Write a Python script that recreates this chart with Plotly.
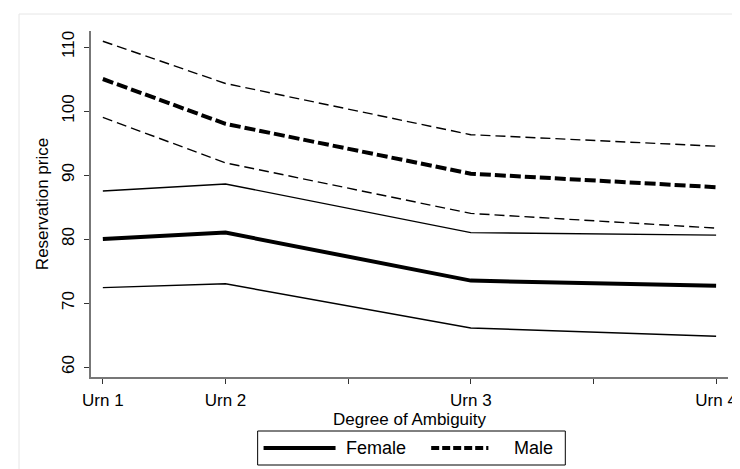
import plotly.graph_objects as go

# ---- data ----
urn_labels = ["Urn 1", "Urn 2", "Urn 3", "Urn 4"]
urn_x = [0, 1, 3, 5]
x_tickvals = [0, 1, 2, 3, 4, 5]
x_ticktext = ["Urn 1", "Urn 2", "", "Urn 3", "", "Urn 4"]
y_tickvals = [60, 70, 80, 90, 100, 110]

female_mean = [80.0, 81.0, 73.5, 72.7]
female_upper = [87.5, 88.6, 81.0, 80.6]
female_lower = [72.4, 73.0, 66.1, 64.8]

male_mean = [105.0, 98.0, 90.2, 88.1]
male_upper = [110.9, 104.3, 96.3, 94.5]
male_lower = [99.0, 91.9, 84.0, 81.7]

FONT = "Liberation Sans, Arial, sans-serif"

fig = go.Figure()

def add(y, width, dash, name):
    fig.add_trace(go.Scatter(x=urn_x, y=y, mode="lines", name=name,
                             line=dict(color="black", width=width, dash=dash),
                             showlegend=False, hoverinfo="skip"))

add(male_upper, 1.4, "10px,5px", "Male upper")
add(male_lower, 1.4, "10px,5px", "Male lower")
add(male_mean, 4, "11px,4px", "Male")
add(female_upper, 1.4, "solid", "Female upper")
add(female_lower, 1.4, "solid", "Female lower")
add(female_mean, 4, "solid", "Female")

# pixel geometry helpers for the hand-built legend
L, R, T, B, W, H = 83, 11, 23, 100, 740, 469
PW, PH = W - L - R, H - T - B
def px(x):
    return (x - L) / PW
def py(y):
    return (H - B - y) / PH

shapes = [
    # outer graph frame
    dict(type="rect", xref="paper", yref="paper", x0=px(10), x1=px(760), y0=py(490), y1=py(6),
         line=dict(color="#e6e6e6", width=1), fillcolor="rgba(0,0,0,0)", layer="below"),
    # legend box
    dict(type="rect", xref="paper", yref="paper", x0=px(252), x1=px(564), y0=py(457), y1=py(423),
         line=dict(color="black", width=1), fillcolor="white"),
    dict(type="line", xref="paper", yref="paper", x0=px(258), x1=px(331), y0=py(440), y1=py(440),
         line=dict(color="black", width=4)),
    dict(type="line", xref="paper", yref="paper", x0=px(428), x1=px(486), y0=py(440), y1=py(440),
         line=dict(color="black", width=4, dash="8px,3px")),
]
annotations = [
    dict(text="Female", xref="paper", yref="paper", x=px(340), y=py(440), xanchor="left",
         yanchor="middle", showarrow=False, font=dict(family=FONT, size=18, color="black")),
    dict(text="Male", xref="paper", yref="paper", x=px(510), y=py(440), xanchor="left",
         yanchor="middle", showarrow=False, font=dict(family=FONT, size=18, color="black")),
]

fig.update_layout(
    width=W, height=H,
    margin=dict(l=L, r=R, t=T, b=B),
    paper_bgcolor="white", plot_bgcolor="white",
    font=dict(family=FONT, size=17, color="black"),
    shapes=shapes, annotations=annotations,
    showlegend=False,
)
fig.update_xaxes(
    range=[-0.0965, 5.097], tickmode="array", tickvals=x_tickvals, ticktext=x_ticktext,
    showgrid=False, zeroline=False, showline=True, linecolor="#777777", linewidth=1.5,
    ticks="outside", ticklen=5, tickcolor="#333333", tickwidth=1,
    tickfont=dict(family=FONT, size=17), ticklabelstandoff=2,
    title=dict(text="Degree of Ambiguity", font=dict(family=FONT, size=17), standoff=0),
)
fig.update_yaxes(
    range=[58.44, 112.5], tickmode="array", tickvals=y_tickvals,
    showgrid=False, zeroline=False, showline=True, linecolor="#777777", linewidth=1.5,
    ticks="outside", ticklen=5, tickcolor="#333333", tickwidth=1, tickangle=-90,
    tickfont=dict(family=FONT, size=17), ticklabelstandoff=3,
    title=dict(text="Reservation price", font=dict(family=FONT, size=17), standoff=7),
)

fig.write_html("out.html")
